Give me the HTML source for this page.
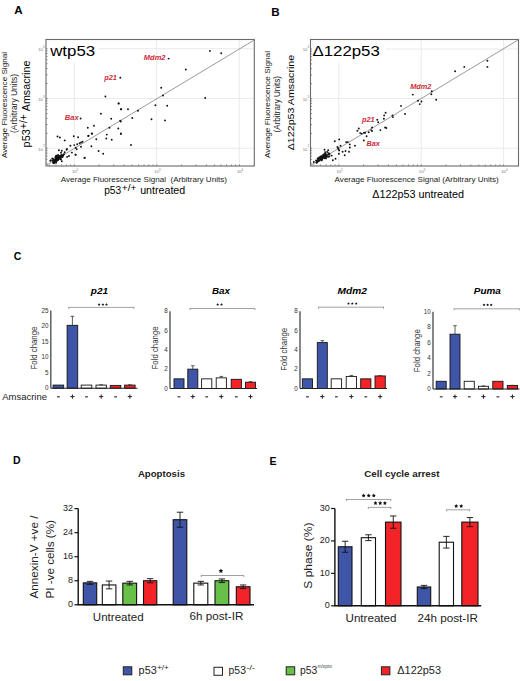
<!DOCTYPE html>
<html><head><meta charset="utf-8"><style>
html,body{margin:0;padding:0;background:#fff;}
svg{display:block;font-family:"Liberation Sans", sans-serif;}
</style></head><body>
<svg width="520" height="681" viewBox="0 0 520 681">
<rect width="520" height="681" fill="#fff"/>
<line x1="74.30" y1="39.50" x2="74.30" y2="166.00" stroke="#e8e8e8" stroke-width="0.9" />
<line x1="156.70" y1="39.50" x2="156.70" y2="166.00" stroke="#e8e8e8" stroke-width="0.9" />
<line x1="239.30" y1="39.50" x2="239.30" y2="166.00" stroke="#e8e8e8" stroke-width="0.9" />
<line x1="46.00" y1="48.70" x2="254.30" y2="48.70" stroke="#e8e8e8" stroke-width="0.9" />
<line x1="46.00" y1="98.50" x2="254.30" y2="98.50" stroke="#e8e8e8" stroke-width="0.9" />
<line x1="46.00" y1="148.30" x2="254.30" y2="148.30" stroke="#e8e8e8" stroke-width="0.9" />
<rect x="46.50" y="40.00" width="52.50" height="22.50" fill="#fff" stroke="none" stroke-width="1"/>
<line x1="49.47" y1="166.00" x2="49.47" y2="164.40" stroke="#666" stroke-width="0.7" />
<line x1="46.00" y1="163.29" x2="47.60" y2="163.29" stroke="#666" stroke-width="0.7" />
<line x1="56.00" y1="166.00" x2="56.00" y2="164.40" stroke="#666" stroke-width="0.7" />
<line x1="46.00" y1="159.35" x2="47.60" y2="159.35" stroke="#666" stroke-width="0.7" />
<line x1="61.52" y1="166.00" x2="61.52" y2="164.40" stroke="#666" stroke-width="0.7" />
<line x1="46.00" y1="156.01" x2="47.60" y2="156.01" stroke="#666" stroke-width="0.7" />
<line x1="66.30" y1="166.00" x2="66.30" y2="164.40" stroke="#666" stroke-width="0.7" />
<line x1="46.00" y1="153.13" x2="47.60" y2="153.13" stroke="#666" stroke-width="0.7" />
<line x1="70.53" y1="166.00" x2="70.53" y2="164.40" stroke="#666" stroke-width="0.7" />
<line x1="46.00" y1="150.58" x2="47.60" y2="150.58" stroke="#666" stroke-width="0.7" />
<line x1="74.30" y1="166.00" x2="74.30" y2="164.40" stroke="#666" stroke-width="0.7" />
<line x1="46.00" y1="148.30" x2="47.60" y2="148.30" stroke="#666" stroke-width="0.7" />
<line x1="99.13" y1="166.00" x2="99.13" y2="164.40" stroke="#666" stroke-width="0.7" />
<line x1="46.00" y1="133.31" x2="47.60" y2="133.31" stroke="#666" stroke-width="0.7" />
<line x1="113.66" y1="166.00" x2="113.66" y2="164.40" stroke="#666" stroke-width="0.7" />
<line x1="46.00" y1="124.54" x2="47.60" y2="124.54" stroke="#666" stroke-width="0.7" />
<line x1="123.97" y1="166.00" x2="123.97" y2="164.40" stroke="#666" stroke-width="0.7" />
<line x1="46.00" y1="118.32" x2="47.60" y2="118.32" stroke="#666" stroke-width="0.7" />
<line x1="131.97" y1="166.00" x2="131.97" y2="164.40" stroke="#666" stroke-width="0.7" />
<line x1="46.00" y1="113.49" x2="47.60" y2="113.49" stroke="#666" stroke-width="0.7" />
<line x1="138.50" y1="166.00" x2="138.50" y2="164.40" stroke="#666" stroke-width="0.7" />
<line x1="46.00" y1="109.55" x2="47.60" y2="109.55" stroke="#666" stroke-width="0.7" />
<line x1="144.02" y1="166.00" x2="144.02" y2="164.40" stroke="#666" stroke-width="0.7" />
<line x1="46.00" y1="106.21" x2="47.60" y2="106.21" stroke="#666" stroke-width="0.7" />
<line x1="148.80" y1="166.00" x2="148.80" y2="164.40" stroke="#666" stroke-width="0.7" />
<line x1="46.00" y1="103.33" x2="47.60" y2="103.33" stroke="#666" stroke-width="0.7" />
<line x1="153.03" y1="166.00" x2="153.03" y2="164.40" stroke="#666" stroke-width="0.7" />
<line x1="46.00" y1="100.78" x2="47.60" y2="100.78" stroke="#666" stroke-width="0.7" />
<line x1="156.80" y1="166.00" x2="156.80" y2="164.40" stroke="#666" stroke-width="0.7" />
<line x1="46.00" y1="98.50" x2="47.60" y2="98.50" stroke="#666" stroke-width="0.7" />
<line x1="181.63" y1="166.00" x2="181.63" y2="164.40" stroke="#666" stroke-width="0.7" />
<line x1="46.00" y1="83.51" x2="47.60" y2="83.51" stroke="#666" stroke-width="0.7" />
<line x1="196.16" y1="166.00" x2="196.16" y2="164.40" stroke="#666" stroke-width="0.7" />
<line x1="46.00" y1="74.74" x2="47.60" y2="74.74" stroke="#666" stroke-width="0.7" />
<line x1="206.47" y1="166.00" x2="206.47" y2="164.40" stroke="#666" stroke-width="0.7" />
<line x1="46.00" y1="68.52" x2="47.60" y2="68.52" stroke="#666" stroke-width="0.7" />
<line x1="214.47" y1="166.00" x2="214.47" y2="164.40" stroke="#666" stroke-width="0.7" />
<line x1="46.00" y1="63.69" x2="47.60" y2="63.69" stroke="#666" stroke-width="0.7" />
<line x1="221.00" y1="166.00" x2="221.00" y2="164.40" stroke="#666" stroke-width="0.7" />
<line x1="46.00" y1="59.75" x2="47.60" y2="59.75" stroke="#666" stroke-width="0.7" />
<line x1="226.52" y1="166.00" x2="226.52" y2="164.40" stroke="#666" stroke-width="0.7" />
<line x1="46.00" y1="56.41" x2="47.60" y2="56.41" stroke="#666" stroke-width="0.7" />
<line x1="231.30" y1="166.00" x2="231.30" y2="164.40" stroke="#666" stroke-width="0.7" />
<line x1="46.00" y1="53.53" x2="47.60" y2="53.53" stroke="#666" stroke-width="0.7" />
<line x1="235.53" y1="166.00" x2="235.53" y2="164.40" stroke="#666" stroke-width="0.7" />
<line x1="46.00" y1="50.98" x2="47.60" y2="50.98" stroke="#666" stroke-width="0.7" />
<line x1="239.30" y1="166.00" x2="239.30" y2="164.40" stroke="#666" stroke-width="0.7" />
<line x1="46.00" y1="48.70" x2="47.60" y2="48.70" stroke="#666" stroke-width="0.7" />
<rect x="46" y="39.5" width="208.30" height="126.50" fill="none" stroke="#6a6a6a" stroke-width="1.1"/>
<line x1="46.00" y1="165.40" x2="254.30" y2="40.00" stroke="#808080" stroke-width="0.8" />
<circle cx="80.6" cy="118.5" r="0.95" fill="#111"/>
<circle cx="100.9" cy="113.8" r="0.95" fill="#111"/>
<circle cx="118.6" cy="103.4" r="0.95" fill="#111"/>
<circle cx="120.9" cy="109.2" r="0.95" fill="#111"/>
<circle cx="111.2" cy="118.8" r="0.95" fill="#111"/>
<circle cx="120.2" cy="120.8" r="0.95" fill="#111"/>
<circle cx="94.0" cy="125.8" r="0.95" fill="#111"/>
<circle cx="87.8" cy="127.7" r="0.95" fill="#111"/>
<circle cx="109.4" cy="127.7" r="0.95" fill="#111"/>
<circle cx="118.3" cy="128.5" r="0.95" fill="#111"/>
<circle cx="120.9" cy="133.5" r="0.95" fill="#111"/>
<circle cx="91.7" cy="133.5" r="0.95" fill="#111"/>
<circle cx="88.6" cy="135.8" r="0.95" fill="#111"/>
<circle cx="106.8" cy="134.6" r="0.95" fill="#111"/>
<circle cx="106.3" cy="138.5" r="0.95" fill="#111"/>
<circle cx="111.7" cy="139.7" r="0.95" fill="#111"/>
<circle cx="96.3" cy="139.2" r="0.95" fill="#111"/>
<circle cx="57.5" cy="136.5" r="0.95" fill="#111"/>
<circle cx="59.9" cy="137.5" r="0.95" fill="#111"/>
<circle cx="64.7" cy="140.4" r="0.95" fill="#111"/>
<circle cx="73.8" cy="136.3" r="0.95" fill="#111"/>
<circle cx="78.1" cy="137.2" r="0.95" fill="#111"/>
<circle cx="88.2" cy="136.0" r="0.95" fill="#111"/>
<circle cx="92.1" cy="133.8" r="0.95" fill="#111"/>
<circle cx="70.4" cy="145.7" r="0.95" fill="#111"/>
<circle cx="74.3" cy="145.1" r="0.95" fill="#111"/>
<circle cx="77.2" cy="144.2" r="0.95" fill="#111"/>
<circle cx="79.6" cy="143.3" r="0.95" fill="#111"/>
<circle cx="81.0" cy="142.5" r="0.95" fill="#111"/>
<circle cx="82.5" cy="141.8" r="0.95" fill="#111"/>
<circle cx="75.7" cy="147.8" r="0.95" fill="#111"/>
<circle cx="76.7" cy="149.2" r="0.95" fill="#111"/>
<circle cx="81.0" cy="146.8" r="0.95" fill="#111"/>
<circle cx="91.4" cy="146.2" r="0.95" fill="#111"/>
<circle cx="66.6" cy="149.7" r="0.95" fill="#111"/>
<circle cx="58.9" cy="150.2" r="0.95" fill="#111"/>
<circle cx="61.8" cy="150.7" r="0.95" fill="#111"/>
<circle cx="71.9" cy="152.6" r="0.95" fill="#111"/>
<circle cx="75.7" cy="154.8" r="0.95" fill="#111"/>
<circle cx="69.0" cy="156.0" r="0.95" fill="#111"/>
<circle cx="67.1" cy="156.9" r="0.95" fill="#111"/>
<circle cx="84.4" cy="157.9" r="0.95" fill="#111"/>
<circle cx="98.6" cy="151.0" r="0.95" fill="#111"/>
<circle cx="103.2" cy="153.8" r="0.95" fill="#111"/>
<circle cx="84.8" cy="157.7" r="0.95" fill="#111"/>
<circle cx="75.5" cy="154.6" r="0.95" fill="#111"/>
<circle cx="67.0" cy="149.0" r="0.95" fill="#111"/>
<circle cx="50.3" cy="160.8" r="0.95" fill="#111"/>
<circle cx="56.0" cy="162.7" r="0.95" fill="#111"/>
<circle cx="61.8" cy="161.3" r="0.95" fill="#111"/>
<circle cx="168.6" cy="58.6" r="0.95" fill="#111"/>
<circle cx="185.8" cy="69.5" r="0.95" fill="#111"/>
<circle cx="161.2" cy="87.8" r="0.95" fill="#111"/>
<circle cx="163.0" cy="95.5" r="0.95" fill="#111"/>
<circle cx="120.3" cy="77.8" r="0.95" fill="#111"/>
<circle cx="105.4" cy="96.5" r="0.95" fill="#111"/>
<circle cx="118.7" cy="103.5" r="0.95" fill="#111"/>
<circle cx="209.9" cy="50.9" r="0.95" fill="#111"/>
<circle cx="221.2" cy="53.2" r="0.95" fill="#111"/>
<circle cx="205.2" cy="98.0" r="0.95" fill="#111"/>
<circle cx="121.2" cy="109.3" r="0.95" fill="#111"/>
<circle cx="128.0" cy="109.3" r="0.95" fill="#111"/>
<circle cx="138.0" cy="110.7" r="0.95" fill="#111"/>
<circle cx="132.3" cy="118.0" r="0.95" fill="#111"/>
<circle cx="120.8" cy="121.5" r="0.95" fill="#111"/>
<circle cx="120.8" cy="133.9" r="0.95" fill="#111"/>
<circle cx="131.0" cy="145.0" r="0.95" fill="#111"/>
<circle cx="155.4" cy="105.3" r="0.95" fill="#111"/>
<circle cx="167.2" cy="105.8" r="0.95" fill="#111"/>
<circle cx="151.5" cy="119.2" r="0.95" fill="#111"/>
<circle cx="165.0" cy="120.4" r="0.95" fill="#111"/>
<circle cx="53.8" cy="159.5" r="0.95" fill="#111"/>
<circle cx="58.5" cy="157.2" r="0.95" fill="#111"/>
<circle cx="53.2" cy="160.4" r="0.95" fill="#111"/>
<circle cx="56.4" cy="159.8" r="0.95" fill="#111"/>
<circle cx="59.4" cy="156.3" r="0.95" fill="#111"/>
<circle cx="52.3" cy="158.4" r="0.95" fill="#111"/>
<circle cx="57.9" cy="156.1" r="0.95" fill="#111"/>
<circle cx="53.3" cy="159.2" r="0.95" fill="#111"/>
<circle cx="58.2" cy="159.9" r="0.95" fill="#111"/>
<circle cx="56.9" cy="155.7" r="0.95" fill="#111"/>
<circle cx="61.1" cy="156.2" r="0.95" fill="#111"/>
<circle cx="58.0" cy="157.3" r="0.95" fill="#111"/>
<circle cx="62.3" cy="156.2" r="0.95" fill="#111"/>
<circle cx="56.1" cy="159.6" r="0.95" fill="#111"/>
<circle cx="58.6" cy="158.8" r="0.95" fill="#111"/>
<circle cx="55.5" cy="160.3" r="0.95" fill="#111"/>
<circle cx="60.3" cy="156.5" r="0.95" fill="#111"/>
<circle cx="64.7" cy="152.3" r="0.95" fill="#111"/>
<circle cx="60.9" cy="159.3" r="0.95" fill="#111"/>
<circle cx="64.0" cy="154.3" r="0.95" fill="#111"/>
<circle cx="60.6" cy="159.2" r="0.95" fill="#111"/>
<circle cx="58.4" cy="158.1" r="0.95" fill="#111"/>
<circle cx="62.0" cy="155.9" r="0.95" fill="#111"/>
<circle cx="60.3" cy="156.7" r="0.95" fill="#111"/>
<circle cx="55.9" cy="156.8" r="0.95" fill="#111"/>
<circle cx="52.7" cy="160.8" r="0.95" fill="#111"/>
<circle cx="58.7" cy="159.1" r="0.95" fill="#111"/>
<circle cx="58.1" cy="155.0" r="0.95" fill="#111"/>
<circle cx="57.3" cy="160.2" r="0.95" fill="#111"/>
<circle cx="53.3" cy="162.4" r="0.95" fill="#111"/>
<circle cx="59.1" cy="157.8" r="0.95" fill="#111"/>
<circle cx="60.3" cy="158.9" r="0.95" fill="#111"/>
<circle cx="60.9" cy="156.7" r="0.95" fill="#111"/>
<circle cx="56.9" cy="156.6" r="0.95" fill="#111"/>
<circle cx="56.1" cy="155.7" r="0.95" fill="#111"/>
<circle cx="55.9" cy="159.0" r="0.95" fill="#111"/>
<circle cx="53.9" cy="163.2" r="0.95" fill="#111"/>
<circle cx="57.8" cy="158.0" r="0.95" fill="#111"/>
<circle cx="56.6" cy="158.6" r="0.95" fill="#111"/>
<circle cx="58.7" cy="157.1" r="0.95" fill="#111"/>
<circle cx="57.2" cy="157.8" r="0.95" fill="#111"/>
<circle cx="55.6" cy="157.0" r="0.95" fill="#111"/>
<circle cx="54.5" cy="161.9" r="0.95" fill="#111"/>
<circle cx="62.6" cy="156.7" r="0.95" fill="#111"/>
<circle cx="58.2" cy="158.7" r="0.95" fill="#111"/>
<circle cx="54.6" cy="160.6" r="0.95" fill="#111"/>
<circle cx="54.1" cy="161.0" r="0.95" fill="#111"/>
<circle cx="50.9" cy="160.2" r="0.95" fill="#111"/>
<circle cx="56.2" cy="161.7" r="0.95" fill="#111"/>
<circle cx="55.5" cy="161.1" r="0.95" fill="#111"/>
<circle cx="60.7" cy="157.6" r="0.95" fill="#111"/>
<circle cx="56.7" cy="158.0" r="0.95" fill="#111"/>
<circle cx="62.1" cy="156.9" r="0.95" fill="#111"/>
<circle cx="60.4" cy="156.3" r="0.95" fill="#111"/>
<circle cx="56.0" cy="161.0" r="0.95" fill="#111"/>
<circle cx="55.4" cy="157.8" r="0.95" fill="#111"/>
<circle cx="54.0" cy="162.5" r="0.95" fill="#111"/>
<circle cx="59.7" cy="156.1" r="0.95" fill="#111"/>
<circle cx="53.3" cy="162.7" r="0.95" fill="#111"/>
<circle cx="54.6" cy="160.7" r="0.95" fill="#111"/>
<circle cx="54.4" cy="160.2" r="0.95" fill="#111"/>
<circle cx="57.3" cy="160.4" r="0.95" fill="#111"/>
<circle cx="63.1" cy="155.6" r="0.95" fill="#111"/>
<circle cx="63.3" cy="154.9" r="0.95" fill="#111"/>
<circle cx="61.3" cy="155.0" r="0.95" fill="#111"/>
<circle cx="57.7" cy="159.2" r="0.95" fill="#111"/>
<circle cx="56.5" cy="160.6" r="0.95" fill="#111"/>
<circle cx="55.7" cy="159.1" r="0.95" fill="#111"/>
<circle cx="61.0" cy="152.8" r="0.95" fill="#111"/>
<circle cx="63.3" cy="154.6" r="0.95" fill="#111"/>
<text x="50.20" y="55.90" font-size="14.2" fill="#000" textLength="45.00" lengthAdjust="spacingAndGlyphs" >wtp53</text>
<text x="143.80" y="59.50" font-size="7.4" fill="#cc2c38" font-weight="bold" font-style="italic" textLength="21.70" lengthAdjust="spacingAndGlyphs" >Mdm2</text>
<text x="104.20" y="79.70" font-size="7.4" fill="#cc2c38" font-weight="bold" font-style="italic" textLength="12.70" lengthAdjust="spacingAndGlyphs" >p21</text>
<text x="64.80" y="119.50" font-size="7.4" fill="#cc2c38" font-weight="bold" font-style="italic" textLength="13.80" lengthAdjust="spacingAndGlyphs" >Bax</text>
<text x="74.30" y="172.60" font-size="4.2" fill="#777" text-anchor="middle" >10</text>
<text x="76.60" y="170.60" font-size="2.8" fill="#777" >2</text>
<text x="156.70" y="172.60" font-size="4.2" fill="#777" text-anchor="middle" >10</text>
<text x="159.00" y="170.60" font-size="2.8" fill="#777" >3</text>
<text x="239.30" y="172.60" font-size="4.2" fill="#777" text-anchor="middle" >10</text>
<text x="241.60" y="170.60" font-size="2.8" fill="#777" >4</text>
<text x="42.90" y="50.90" font-size="4.2" fill="#777" text-anchor="end" >10</text>
<text x="42.90" y="47.80" font-size="2.8" fill="#777" >4</text>
<text x="42.90" y="100.70" font-size="4.2" fill="#777" text-anchor="end" >10</text>
<text x="42.90" y="97.60" font-size="2.8" fill="#777" >3</text>
<text x="42.90" y="150.50" font-size="4.2" fill="#777" text-anchor="end" >10</text>
<text x="42.90" y="147.40" font-size="2.8" fill="#777" >2</text>
<line x1="338.80" y1="39.50" x2="338.80" y2="166.00" stroke="#e8e8e8" stroke-width="0.9" />
<line x1="421.20" y1="39.50" x2="421.20" y2="166.00" stroke="#e8e8e8" stroke-width="0.9" />
<line x1="503.60" y1="39.50" x2="503.60" y2="166.00" stroke="#e8e8e8" stroke-width="0.9" />
<line x1="310.50" y1="49.00" x2="518.50" y2="49.00" stroke="#e8e8e8" stroke-width="0.9" />
<line x1="310.50" y1="98.50" x2="518.50" y2="98.50" stroke="#e8e8e8" stroke-width="0.9" />
<line x1="310.50" y1="148.30" x2="518.50" y2="148.30" stroke="#e8e8e8" stroke-width="0.9" />
<rect x="311.00" y="40.00" width="74.80" height="22.50" fill="#fff" stroke="none" stroke-width="1"/>
<line x1="314.00" y1="166.00" x2="314.00" y2="164.40" stroke="#666" stroke-width="0.7" />
<line x1="310.50" y1="163.25" x2="312.10" y2="163.25" stroke="#666" stroke-width="0.7" />
<line x1="320.52" y1="166.00" x2="320.52" y2="164.40" stroke="#666" stroke-width="0.7" />
<line x1="310.50" y1="159.31" x2="312.10" y2="159.31" stroke="#666" stroke-width="0.7" />
<line x1="326.04" y1="166.00" x2="326.04" y2="164.40" stroke="#666" stroke-width="0.7" />
<line x1="310.50" y1="155.99" x2="312.10" y2="155.99" stroke="#666" stroke-width="0.7" />
<line x1="330.81" y1="166.00" x2="330.81" y2="164.40" stroke="#666" stroke-width="0.7" />
<line x1="310.50" y1="153.11" x2="312.10" y2="153.11" stroke="#666" stroke-width="0.7" />
<line x1="335.03" y1="166.00" x2="335.03" y2="164.40" stroke="#666" stroke-width="0.7" />
<line x1="310.50" y1="150.57" x2="312.10" y2="150.57" stroke="#666" stroke-width="0.7" />
<line x1="338.80" y1="166.00" x2="338.80" y2="164.40" stroke="#666" stroke-width="0.7" />
<line x1="310.50" y1="148.30" x2="312.10" y2="148.30" stroke="#666" stroke-width="0.7" />
<line x1="363.60" y1="166.00" x2="363.60" y2="164.40" stroke="#666" stroke-width="0.7" />
<line x1="310.50" y1="133.35" x2="312.10" y2="133.35" stroke="#666" stroke-width="0.7" />
<line x1="378.11" y1="166.00" x2="378.11" y2="164.40" stroke="#666" stroke-width="0.7" />
<line x1="310.50" y1="124.61" x2="312.10" y2="124.61" stroke="#666" stroke-width="0.7" />
<line x1="388.41" y1="166.00" x2="388.41" y2="164.40" stroke="#666" stroke-width="0.7" />
<line x1="310.50" y1="118.41" x2="312.10" y2="118.41" stroke="#666" stroke-width="0.7" />
<line x1="396.40" y1="166.00" x2="396.40" y2="164.40" stroke="#666" stroke-width="0.7" />
<line x1="310.50" y1="113.60" x2="312.10" y2="113.60" stroke="#666" stroke-width="0.7" />
<line x1="402.92" y1="166.00" x2="402.92" y2="164.40" stroke="#666" stroke-width="0.7" />
<line x1="310.50" y1="109.66" x2="312.10" y2="109.66" stroke="#666" stroke-width="0.7" />
<line x1="408.44" y1="166.00" x2="408.44" y2="164.40" stroke="#666" stroke-width="0.7" />
<line x1="310.50" y1="106.34" x2="312.10" y2="106.34" stroke="#666" stroke-width="0.7" />
<line x1="413.21" y1="166.00" x2="413.21" y2="164.40" stroke="#666" stroke-width="0.7" />
<line x1="310.50" y1="103.46" x2="312.10" y2="103.46" stroke="#666" stroke-width="0.7" />
<line x1="417.43" y1="166.00" x2="417.43" y2="164.40" stroke="#666" stroke-width="0.7" />
<line x1="310.50" y1="100.92" x2="312.10" y2="100.92" stroke="#666" stroke-width="0.7" />
<line x1="421.20" y1="166.00" x2="421.20" y2="164.40" stroke="#666" stroke-width="0.7" />
<line x1="310.50" y1="98.65" x2="312.10" y2="98.65" stroke="#666" stroke-width="0.7" />
<line x1="446.00" y1="166.00" x2="446.00" y2="164.40" stroke="#666" stroke-width="0.7" />
<line x1="310.50" y1="83.70" x2="312.10" y2="83.70" stroke="#666" stroke-width="0.7" />
<line x1="460.51" y1="166.00" x2="460.51" y2="164.40" stroke="#666" stroke-width="0.7" />
<line x1="310.50" y1="74.96" x2="312.10" y2="74.96" stroke="#666" stroke-width="0.7" />
<line x1="470.81" y1="166.00" x2="470.81" y2="164.40" stroke="#666" stroke-width="0.7" />
<line x1="310.50" y1="68.76" x2="312.10" y2="68.76" stroke="#666" stroke-width="0.7" />
<line x1="478.80" y1="166.00" x2="478.80" y2="164.40" stroke="#666" stroke-width="0.7" />
<line x1="310.50" y1="63.95" x2="312.10" y2="63.95" stroke="#666" stroke-width="0.7" />
<line x1="485.32" y1="166.00" x2="485.32" y2="164.40" stroke="#666" stroke-width="0.7" />
<line x1="310.50" y1="60.01" x2="312.10" y2="60.01" stroke="#666" stroke-width="0.7" />
<line x1="490.84" y1="166.00" x2="490.84" y2="164.40" stroke="#666" stroke-width="0.7" />
<line x1="310.50" y1="56.69" x2="312.10" y2="56.69" stroke="#666" stroke-width="0.7" />
<line x1="495.61" y1="166.00" x2="495.61" y2="164.40" stroke="#666" stroke-width="0.7" />
<line x1="310.50" y1="53.81" x2="312.10" y2="53.81" stroke="#666" stroke-width="0.7" />
<line x1="499.83" y1="166.00" x2="499.83" y2="164.40" stroke="#666" stroke-width="0.7" />
<line x1="310.50" y1="51.27" x2="312.10" y2="51.27" stroke="#666" stroke-width="0.7" />
<line x1="503.60" y1="166.00" x2="503.60" y2="164.40" stroke="#666" stroke-width="0.7" />
<line x1="310.50" y1="49.00" x2="312.10" y2="49.00" stroke="#666" stroke-width="0.7" />
<rect x="310.5" y="39.5" width="208.00" height="126.50" fill="none" stroke="#6a6a6a" stroke-width="1.1"/>
<line x1="310.50" y1="165.40" x2="518.50" y2="39.70" stroke="#808080" stroke-width="0.8" />
<circle cx="455.1" cy="71.2" r="0.95" fill="#111"/>
<circle cx="464.3" cy="66.9" r="0.95" fill="#111"/>
<circle cx="487.4" cy="60.8" r="0.95" fill="#111"/>
<circle cx="487.4" cy="66.9" r="0.95" fill="#111"/>
<circle cx="412.8" cy="94.6" r="0.95" fill="#111"/>
<circle cx="431.8" cy="91.2" r="0.95" fill="#111"/>
<circle cx="431.3" cy="94.3" r="0.95" fill="#111"/>
<circle cx="418.0" cy="100.7" r="0.95" fill="#111"/>
<circle cx="421.4" cy="101.5" r="0.95" fill="#111"/>
<circle cx="419.7" cy="104.1" r="0.95" fill="#111"/>
<circle cx="436.2" cy="99.8" r="0.95" fill="#111"/>
<circle cx="401.0" cy="105.9" r="0.95" fill="#111"/>
<circle cx="405.0" cy="114.0" r="0.95" fill="#111"/>
<circle cx="392.5" cy="115.4" r="0.95" fill="#111"/>
<circle cx="392.9" cy="117.1" r="0.95" fill="#111"/>
<circle cx="385.6" cy="112.8" r="0.95" fill="#111"/>
<circle cx="384.2" cy="115.4" r="0.95" fill="#111"/>
<circle cx="383.9" cy="118.8" r="0.95" fill="#111"/>
<circle cx="377.3" cy="119.7" r="0.95" fill="#111"/>
<circle cx="378.2" cy="122.3" r="0.95" fill="#111"/>
<circle cx="385.1" cy="127.5" r="0.95" fill="#111"/>
<circle cx="386.3" cy="128.0" r="0.95" fill="#111"/>
<circle cx="380.4" cy="130.1" r="0.95" fill="#111"/>
<circle cx="372.1" cy="127.5" r="0.95" fill="#111"/>
<circle cx="371.2" cy="130.1" r="0.95" fill="#111"/>
<circle cx="372.0" cy="131.0" r="0.95" fill="#111"/>
<circle cx="368.7" cy="132.3" r="0.95" fill="#111"/>
<circle cx="365.2" cy="132.7" r="0.95" fill="#111"/>
<circle cx="361.7" cy="133.6" r="0.95" fill="#111"/>
<circle cx="366.6" cy="136.2" r="0.95" fill="#111"/>
<circle cx="363.8" cy="140.5" r="0.95" fill="#111"/>
<circle cx="358.8" cy="128.5" r="0.95" fill="#111"/>
<circle cx="357.4" cy="130.8" r="0.95" fill="#111"/>
<circle cx="360.2" cy="133.1" r="0.95" fill="#111"/>
<circle cx="364.0" cy="132.8" r="0.95" fill="#111"/>
<circle cx="334.8" cy="141.2" r="0.95" fill="#111"/>
<circle cx="339.2" cy="139.4" r="0.95" fill="#111"/>
<circle cx="346.1" cy="142.1" r="0.95" fill="#111"/>
<circle cx="347.8" cy="142.1" r="0.95" fill="#111"/>
<circle cx="349.8" cy="144.4" r="0.95" fill="#111"/>
<circle cx="349.8" cy="147.5" r="0.95" fill="#111"/>
<circle cx="355.0" cy="145.8" r="0.95" fill="#111"/>
<circle cx="340.5" cy="145.8" r="0.95" fill="#111"/>
<circle cx="337.4" cy="146.9" r="0.95" fill="#111"/>
<circle cx="338.0" cy="148.0" r="0.95" fill="#111"/>
<circle cx="338.6" cy="149.2" r="0.95" fill="#111"/>
<circle cx="339.2" cy="150.4" r="0.95" fill="#111"/>
<circle cx="342.6" cy="151.8" r="0.95" fill="#111"/>
<circle cx="345.5" cy="151.0" r="0.95" fill="#111"/>
<circle cx="349.0" cy="151.8" r="0.95" fill="#111"/>
<circle cx="344.7" cy="155.2" r="0.95" fill="#111"/>
<circle cx="338.9" cy="153.8" r="0.95" fill="#111"/>
<circle cx="324.5" cy="149.8" r="0.95" fill="#111"/>
<circle cx="328.2" cy="150.2" r="0.95" fill="#111"/>
<circle cx="328.8" cy="153.3" r="0.95" fill="#111"/>
<circle cx="331.7" cy="155.6" r="0.95" fill="#111"/>
<circle cx="335.5" cy="158.7" r="0.95" fill="#111"/>
<circle cx="332.8" cy="160.2" r="0.95" fill="#111"/>
<circle cx="325.3" cy="153.3" r="0.95" fill="#111"/>
<circle cx="326.5" cy="156.2" r="0.95" fill="#111"/>
<circle cx="323.5" cy="154.8" r="0.95" fill="#111"/>
<circle cx="327.2" cy="152.0" r="0.95" fill="#111"/>
<circle cx="313.8" cy="162.0" r="0.95" fill="#111"/>
<circle cx="324.5" cy="156.6" r="0.95" fill="#111"/>
<circle cx="321.9" cy="159.8" r="0.95" fill="#111"/>
<circle cx="324.0" cy="157.6" r="0.95" fill="#111"/>
<circle cx="321.6" cy="158.4" r="0.95" fill="#111"/>
<circle cx="318.5" cy="159.7" r="0.95" fill="#111"/>
<circle cx="323.7" cy="157.2" r="0.95" fill="#111"/>
<circle cx="326.7" cy="156.3" r="0.95" fill="#111"/>
<circle cx="328.5" cy="153.9" r="0.95" fill="#111"/>
<circle cx="325.7" cy="154.3" r="0.95" fill="#111"/>
<circle cx="320.7" cy="159.3" r="0.95" fill="#111"/>
<circle cx="328.5" cy="154.1" r="0.95" fill="#111"/>
<circle cx="321.0" cy="159.6" r="0.95" fill="#111"/>
<circle cx="316.7" cy="162.7" r="0.95" fill="#111"/>
<circle cx="316.0" cy="160.4" r="0.95" fill="#111"/>
<circle cx="320.7" cy="158.0" r="0.95" fill="#111"/>
<circle cx="318.1" cy="159.5" r="0.95" fill="#111"/>
<circle cx="317.4" cy="161.1" r="0.95" fill="#111"/>
<circle cx="325.3" cy="156.0" r="0.95" fill="#111"/>
<circle cx="324.4" cy="157.3" r="0.95" fill="#111"/>
<circle cx="317.4" cy="161.7" r="0.95" fill="#111"/>
<circle cx="328.2" cy="156.9" r="0.95" fill="#111"/>
<circle cx="328.3" cy="154.6" r="0.95" fill="#111"/>
<circle cx="318.4" cy="158.7" r="0.95" fill="#111"/>
<circle cx="317.7" cy="158.4" r="0.95" fill="#111"/>
<circle cx="329.4" cy="156.2" r="0.95" fill="#111"/>
<circle cx="316.6" cy="162.4" r="0.95" fill="#111"/>
<circle cx="325.5" cy="157.6" r="0.95" fill="#111"/>
<circle cx="322.3" cy="158.7" r="0.95" fill="#111"/>
<circle cx="319.2" cy="160.6" r="0.95" fill="#111"/>
<circle cx="325.2" cy="156.7" r="0.95" fill="#111"/>
<circle cx="318.7" cy="161.0" r="0.95" fill="#111"/>
<circle cx="321.3" cy="160.4" r="0.95" fill="#111"/>
<circle cx="324.7" cy="156.1" r="0.95" fill="#111"/>
<circle cx="317.4" cy="160.9" r="0.95" fill="#111"/>
<circle cx="322.5" cy="157.5" r="0.95" fill="#111"/>
<circle cx="326.7" cy="155.8" r="0.95" fill="#111"/>
<circle cx="326.7" cy="156.8" r="0.95" fill="#111"/>
<circle cx="318.8" cy="159.6" r="0.95" fill="#111"/>
<circle cx="324.3" cy="158.3" r="0.95" fill="#111"/>
<circle cx="326.3" cy="155.1" r="0.95" fill="#111"/>
<circle cx="323.8" cy="156.5" r="0.95" fill="#111"/>
<circle cx="321.9" cy="159.7" r="0.95" fill="#111"/>
<circle cx="329.6" cy="154.1" r="0.95" fill="#111"/>
<circle cx="321.9" cy="158.5" r="0.95" fill="#111"/>
<circle cx="320.2" cy="157.0" r="0.95" fill="#111"/>
<circle cx="321.2" cy="156.8" r="0.95" fill="#111"/>
<circle cx="323.4" cy="154.8" r="0.95" fill="#111"/>
<circle cx="320.4" cy="157.9" r="0.95" fill="#111"/>
<circle cx="322.3" cy="156.1" r="0.95" fill="#111"/>
<circle cx="321.7" cy="158.8" r="0.95" fill="#111"/>
<circle cx="324.8" cy="157.6" r="0.95" fill="#111"/>
<circle cx="318.7" cy="158.5" r="0.95" fill="#111"/>
<circle cx="324.5" cy="153.9" r="0.95" fill="#111"/>
<circle cx="319.2" cy="157.4" r="0.95" fill="#111"/>
<circle cx="324.6" cy="157.7" r="0.95" fill="#111"/>
<circle cx="325.2" cy="152.1" r="0.95" fill="#111"/>
<circle cx="325.9" cy="154.6" r="0.95" fill="#111"/>
<circle cx="320.0" cy="157.7" r="0.95" fill="#111"/>
<circle cx="321.2" cy="156.2" r="0.95" fill="#111"/>
<circle cx="326.0" cy="158.4" r="0.95" fill="#111"/>
<circle cx="322.5" cy="156.3" r="0.95" fill="#111"/>
<circle cx="324.0" cy="155.3" r="0.95" fill="#111"/>
<circle cx="325.5" cy="156.6" r="0.95" fill="#111"/>
<circle cx="321.0" cy="157.7" r="0.95" fill="#111"/>
<circle cx="324.1" cy="156.4" r="0.95" fill="#111"/>
<circle cx="322.0" cy="158.6" r="0.95" fill="#111"/>
<circle cx="317.7" cy="161.3" r="0.95" fill="#111"/>
<text x="312.50" y="56.40" font-size="14.2" fill="#000" textLength="67.30" lengthAdjust="spacingAndGlyphs" >&#916;122p53</text>
<text x="410.20" y="88.60" font-size="7.4" fill="#cc2c38" font-weight="bold" font-style="italic" textLength="21.10" lengthAdjust="spacingAndGlyphs" >Mdm2</text>
<text x="362.00" y="122.00" font-size="7.4" fill="#cc2c38" font-weight="bold" font-style="italic" textLength="12.70" lengthAdjust="spacingAndGlyphs" >p21</text>
<text x="366.60" y="146.20" font-size="7.4" fill="#cc2c38" font-weight="bold" font-style="italic" textLength="13.30" lengthAdjust="spacingAndGlyphs" >Bax</text>
<text x="338.80" y="172.60" font-size="4.2" fill="#777" text-anchor="middle" >10</text>
<text x="341.10" y="170.60" font-size="2.8" fill="#777" >2</text>
<text x="421.20" y="172.60" font-size="4.2" fill="#777" text-anchor="middle" >10</text>
<text x="423.50" y="170.60" font-size="2.8" fill="#777" >3</text>
<text x="503.60" y="172.60" font-size="4.2" fill="#777" text-anchor="middle" >10</text>
<text x="505.90" y="170.60" font-size="2.8" fill="#777" >4</text>
<text x="307.40" y="51.20" font-size="4.2" fill="#777" text-anchor="end" >10</text>
<text x="307.40" y="48.10" font-size="2.8" fill="#777" >4</text>
<text x="307.40" y="100.70" font-size="4.2" fill="#777" text-anchor="end" >10</text>
<text x="307.40" y="97.60" font-size="2.8" fill="#777" >3</text>
<text x="307.40" y="150.50" font-size="4.2" fill="#777" text-anchor="end" >10</text>
<text x="307.40" y="147.40" font-size="2.8" fill="#777" >2</text>
<text x="14.20" y="13.80" font-size="11.6" fill="#000" font-weight="bold" >A</text>
<text x="271.20" y="15.80" font-size="11.6" fill="#000" font-weight="bold" >B</text>
<text x="7.10" y="105.00" font-size="7.9" fill="#222" text-anchor="middle" textLength="106.00" lengthAdjust="spacingAndGlyphs" transform="rotate(-90 7.10 105.00)" >Average Fluorescence Signal</text>
<text x="16.50" y="103.50" font-size="8.2" fill="#222" text-anchor="middle" textLength="59.00" lengthAdjust="spacingAndGlyphs" transform="rotate(-90 16.50 103.50)" >(Arbitrary Units)</text>
<text x="30.40" y="147.40" font-size="10.0" fill="#000" textLength="18.20" lengthAdjust="spacingAndGlyphs" transform="rotate(-90 30.40 147.40)" >p53</text>
<text x="26.70" y="129.00" font-size="10.0" fill="#000" textLength="14.60" lengthAdjust="spacingAndGlyphs" transform="rotate(-90 26.70 129.00)" >+/+</text>
<text x="29.90" y="111.20" font-size="10.5" fill="#000" textLength="50.60" lengthAdjust="spacingAndGlyphs" transform="rotate(-90 29.90 111.20)" >Amsacrine</text>
<text x="60.80" y="181.80" font-size="8.0" fill="#222" textLength="166.10" lengthAdjust="spacingAndGlyphs" >Average Fluorescence Signal&#160;&#160;(Arbitrary Units)</text>
<text x="104.20" y="194.40" font-size="10.0" fill="#000" textLength="17.00" lengthAdjust="spacingAndGlyphs" >p53</text>
<text x="121.80" y="191.00" font-size="9.4" fill="#000" textLength="14.60" lengthAdjust="spacingAndGlyphs" >+/+</text>
<text x="140.20" y="194.40" font-size="10.0" fill="#000" textLength="45.00" lengthAdjust="spacingAndGlyphs" >untreated</text>
<text x="270.40" y="104.50" font-size="7.9" fill="#222" text-anchor="middle" textLength="107.00" lengthAdjust="spacingAndGlyphs" transform="rotate(-90 270.40 104.50)" >Average Fluorescence Signal</text>
<text x="280.20" y="104.20" font-size="8.2" fill="#222" text-anchor="middle" textLength="56.30" lengthAdjust="spacingAndGlyphs" transform="rotate(-90 280.20 104.20)" >(Arbitrary Units)</text>
<text x="293.70" y="102.50" font-size="9.8" fill="#000" text-anchor="middle" textLength="95.50" lengthAdjust="spacingAndGlyphs" transform="rotate(-90 293.70 102.50)" >&#916;122p53 Amsacrine</text>
<text x="334.60" y="182.30" font-size="8.0" fill="#222" textLength="164.20" lengthAdjust="spacingAndGlyphs" >Average Fluorescence Signal (Arbitrary Units)</text>
<text x="372.20" y="197.60" font-size="10.0" fill="#000" textLength="91.90" lengthAdjust="spacingAndGlyphs" >&#916;122p53 untreated</text>
<text x="13.75" y="260.00" font-size="10.5" fill="#000" font-weight="bold" >C</text>
<rect x="53.10" y="385.09" width="10.60" height="3.11" fill="#3e55a8" stroke="#151515" stroke-width="0.9"/>
<rect x="67.10" y="325.34" width="10.60" height="62.86" fill="#3e55a8" stroke="#151515" stroke-width="0.9"/>
<line x1="72.40" y1="316.31" x2="72.40" y2="325.34" stroke="#333" stroke-width="0.8" />
<line x1="70.60" y1="316.31" x2="74.20" y2="316.31" stroke="#333" stroke-width="0.8" />
<rect x="81.20" y="385.09" width="10.60" height="3.11" fill="#ffffff" stroke="#151515" stroke-width="0.9"/>
<rect x="96.00" y="385.09" width="10.40" height="3.11" fill="#ffffff" stroke="#151515" stroke-width="0.9"/>
<line x1="101.20" y1="384.78" x2="101.20" y2="385.09" stroke="#333" stroke-width="0.8" />
<line x1="99.40" y1="384.78" x2="103.00" y2="384.78" stroke="#333" stroke-width="0.8" />
<rect x="110.30" y="385.40" width="10.50" height="2.80" fill="#f32428" stroke="#151515" stroke-width="0.9"/>
<rect x="124.60" y="385.09" width="10.50" height="3.11" fill="#f32428" stroke="#151515" stroke-width="0.9"/>
<line x1="129.85" y1="384.78" x2="129.85" y2="385.09" stroke="#333" stroke-width="0.8" />
<line x1="128.05" y1="384.78" x2="131.65" y2="384.78" stroke="#333" stroke-width="0.8" />
<line x1="50.80" y1="310.40" x2="50.80" y2="388.20" stroke="#555" stroke-width="1.4" />
<line x1="50.80" y1="388.20" x2="137.40" y2="388.20" stroke="#222" stroke-width="1.1" />
<text x="48.60" y="390.40" font-size="6.3" fill="#333" text-anchor="end" >0</text>
<text x="48.60" y="374.84" font-size="6.3" fill="#333" text-anchor="end" >5</text>
<text x="48.60" y="359.28" font-size="6.3" fill="#333" text-anchor="end" >10</text>
<text x="48.60" y="343.72" font-size="6.3" fill="#333" text-anchor="end" >15</text>
<text x="48.60" y="328.16" font-size="6.3" fill="#333" text-anchor="end" >20</text>
<text x="48.60" y="312.60" font-size="6.3" fill="#333" text-anchor="end" >25</text>
<text x="90.80" y="293.80" font-size="9.6" fill="#000" font-weight="bold" font-style="italic" textLength="17.30" lengthAdjust="spacingAndGlyphs" >p21</text>
<rect x="57.00" y="396.30" width="2.80" height="1.10" fill="#222" stroke="none" stroke-width="1"/>
<rect x="70.30" y="396.10" width="4.20" height="1.00" fill="#222" stroke="none" stroke-width="1"/>
<rect x="71.90" y="394.50" width="1.00" height="4.20" fill="#222" stroke="none" stroke-width="1"/>
<rect x="85.10" y="396.30" width="2.80" height="1.10" fill="#222" stroke="none" stroke-width="1"/>
<rect x="99.10" y="396.10" width="4.20" height="1.00" fill="#222" stroke="none" stroke-width="1"/>
<rect x="100.70" y="394.50" width="1.00" height="4.20" fill="#222" stroke="none" stroke-width="1"/>
<rect x="114.15" y="396.30" width="2.80" height="1.10" fill="#222" stroke="none" stroke-width="1"/>
<rect x="127.75" y="396.10" width="4.20" height="1.00" fill="#222" stroke="none" stroke-width="1"/>
<rect x="129.35" y="394.50" width="1.00" height="4.20" fill="#222" stroke="none" stroke-width="1"/>
<text x="36.70" y="348.10" font-size="8.3" fill="#333" text-anchor="middle" textLength="43.00" lengthAdjust="spacingAndGlyphs" transform="rotate(-90 36.70 348.10)" >Fold change</text>
<line x1="68.80" y1="307.40" x2="133.90" y2="307.40" stroke="#8a8a8a" stroke-width="0.8" />
<line x1="68.80" y1="306.80" x2="68.80" y2="309.00" stroke="#8a8a8a" stroke-width="0.8" />
<line x1="133.90" y1="306.80" x2="133.90" y2="309.00" stroke="#8a8a8a" stroke-width="0.8" />
<polygon points="99.10,303.05 99.54,303.89 100.48,304.05 99.82,304.73 99.95,305.67 99.10,305.25 98.25,305.67 98.38,304.73 97.72,304.05 98.66,303.89" fill="#111"/>
<polygon points="102.90,303.05 103.34,303.89 104.28,304.05 103.62,304.73 103.75,305.67 102.90,305.25 102.05,305.67 102.18,304.73 101.52,304.05 102.46,303.89" fill="#111"/>
<polygon points="106.50,303.05 106.94,303.89 107.88,304.05 107.22,304.73 107.35,305.67 106.50,305.25 105.65,305.67 105.78,304.73 105.12,304.05 106.06,303.89" fill="#111"/>
<rect x="174.00" y="378.84" width="10.00" height="9.66" fill="#3e55a8" stroke="#151515" stroke-width="0.9"/>
<rect x="187.80" y="369.18" width="10.00" height="19.32" fill="#3e55a8" stroke="#151515" stroke-width="0.9"/>
<line x1="192.80" y1="365.79" x2="192.80" y2="369.18" stroke="#333" stroke-width="0.8" />
<line x1="191.00" y1="365.79" x2="194.60" y2="365.79" stroke="#333" stroke-width="0.8" />
<rect x="201.60" y="378.84" width="10.20" height="9.66" fill="#ffffff" stroke="#151515" stroke-width="0.9"/>
<rect x="216.20" y="377.87" width="10.20" height="10.63" fill="#ffffff" stroke="#151515" stroke-width="0.9"/>
<line x1="221.30" y1="376.42" x2="221.30" y2="377.87" stroke="#333" stroke-width="0.8" />
<line x1="219.50" y1="376.42" x2="223.10" y2="376.42" stroke="#333" stroke-width="0.8" />
<rect x="231.20" y="379.32" width="10.20" height="9.18" fill="#f32428" stroke="#151515" stroke-width="0.9"/>
<rect x="245.50" y="382.22" width="10.00" height="6.28" fill="#f32428" stroke="#151515" stroke-width="0.9"/>
<line x1="250.50" y1="381.64" x2="250.50" y2="382.22" stroke="#333" stroke-width="0.8" />
<line x1="248.70" y1="381.64" x2="252.30" y2="381.64" stroke="#333" stroke-width="0.8" />
<line x1="170.00" y1="311.20" x2="170.00" y2="388.50" stroke="#555" stroke-width="1.4" />
<line x1="170.00" y1="388.50" x2="257.00" y2="388.50" stroke="#222" stroke-width="1.1" />
<text x="167.80" y="390.70" font-size="6.3" fill="#333" text-anchor="end" >0</text>
<text x="167.80" y="371.38" font-size="6.3" fill="#333" text-anchor="end" >2</text>
<text x="167.80" y="352.05" font-size="6.3" fill="#333" text-anchor="end" >4</text>
<text x="167.80" y="332.72" font-size="6.3" fill="#333" text-anchor="end" >6</text>
<text x="167.80" y="313.40" font-size="6.3" fill="#333" text-anchor="end" >8</text>
<text x="212.00" y="293.80" font-size="9.6" fill="#000" font-weight="bold" font-style="italic" textLength="18.00" lengthAdjust="spacingAndGlyphs" >Bax</text>
<rect x="177.60" y="396.30" width="2.80" height="1.10" fill="#222" stroke="none" stroke-width="1"/>
<rect x="190.70" y="396.10" width="4.20" height="1.00" fill="#222" stroke="none" stroke-width="1"/>
<rect x="192.30" y="394.50" width="1.00" height="4.20" fill="#222" stroke="none" stroke-width="1"/>
<rect x="205.30" y="396.30" width="2.80" height="1.10" fill="#222" stroke="none" stroke-width="1"/>
<rect x="219.20" y="396.10" width="4.20" height="1.00" fill="#222" stroke="none" stroke-width="1"/>
<rect x="220.80" y="394.50" width="1.00" height="4.20" fill="#222" stroke="none" stroke-width="1"/>
<rect x="234.90" y="396.30" width="2.80" height="1.10" fill="#222" stroke="none" stroke-width="1"/>
<rect x="248.40" y="396.10" width="4.20" height="1.00" fill="#222" stroke="none" stroke-width="1"/>
<rect x="250.00" y="394.50" width="1.00" height="4.20" fill="#222" stroke="none" stroke-width="1"/>
<text x="158.30" y="347.90" font-size="8.3" fill="#333" text-anchor="middle" textLength="43.00" lengthAdjust="spacingAndGlyphs" transform="rotate(-90 158.30 347.90)" >Fold change</text>
<line x1="190.00" y1="308.50" x2="254.90" y2="308.50" stroke="#8a8a8a" stroke-width="0.8" />
<line x1="190.00" y1="307.90" x2="190.00" y2="310.10" stroke="#8a8a8a" stroke-width="0.8" />
<line x1="254.90" y1="307.90" x2="254.90" y2="310.10" stroke="#8a8a8a" stroke-width="0.8" />
<polygon points="217.70,303.05 218.14,303.89 219.08,304.05 218.42,304.73 218.55,305.67 217.70,305.25 216.85,305.67 216.98,304.73 216.32,304.05 217.26,303.89" fill="#111"/>
<polygon points="221.50,303.05 221.94,303.89 222.88,304.05 222.22,304.73 222.35,305.67 221.50,305.25 220.65,305.67 220.78,304.73 220.12,304.05 221.06,303.89" fill="#111"/>
<rect x="302.30" y="378.84" width="10.20" height="9.66" fill="#3e55a8" stroke="#151515" stroke-width="0.9"/>
<rect x="317.30" y="342.60" width="10.00" height="45.90" fill="#3e55a8" stroke="#151515" stroke-width="0.9"/>
<line x1="322.30" y1="340.67" x2="322.30" y2="342.60" stroke="#333" stroke-width="0.8" />
<line x1="320.50" y1="340.67" x2="324.10" y2="340.67" stroke="#333" stroke-width="0.8" />
<rect x="331.20" y="378.84" width="10.40" height="9.66" fill="#ffffff" stroke="#151515" stroke-width="0.9"/>
<rect x="346.20" y="376.42" width="10.30" height="12.08" fill="#ffffff" stroke="#151515" stroke-width="0.9"/>
<line x1="351.35" y1="375.46" x2="351.35" y2="376.42" stroke="#333" stroke-width="0.8" />
<line x1="349.55" y1="375.46" x2="353.15" y2="375.46" stroke="#333" stroke-width="0.8" />
<rect x="360.70" y="378.84" width="10.20" height="9.66" fill="#f32428" stroke="#151515" stroke-width="0.9"/>
<rect x="375.00" y="375.94" width="10.30" height="12.56" fill="#f32428" stroke="#151515" stroke-width="0.9"/>
<line x1="380.15" y1="375.55" x2="380.15" y2="375.94" stroke="#333" stroke-width="0.8" />
<line x1="378.35" y1="375.55" x2="381.95" y2="375.55" stroke="#333" stroke-width="0.8" />
<line x1="300.00" y1="311.20" x2="300.00" y2="388.50" stroke="#555" stroke-width="1.4" />
<line x1="300.00" y1="388.50" x2="387.00" y2="388.50" stroke="#222" stroke-width="1.1" />
<text x="297.80" y="390.70" font-size="6.3" fill="#333" text-anchor="end" >0</text>
<text x="297.80" y="371.38" font-size="6.3" fill="#333" text-anchor="end" >2</text>
<text x="297.80" y="352.05" font-size="6.3" fill="#333" text-anchor="end" >4</text>
<text x="297.80" y="332.72" font-size="6.3" fill="#333" text-anchor="end" >6</text>
<text x="297.80" y="313.40" font-size="6.3" fill="#333" text-anchor="end" >8</text>
<text x="337.60" y="293.80" font-size="9.6" fill="#000" font-weight="bold" font-style="italic" textLength="29.30" lengthAdjust="spacingAndGlyphs" >Mdm2</text>
<rect x="306.00" y="396.30" width="2.80" height="1.10" fill="#222" stroke="none" stroke-width="1"/>
<rect x="320.20" y="396.10" width="4.20" height="1.00" fill="#222" stroke="none" stroke-width="1"/>
<rect x="321.80" y="394.50" width="1.00" height="4.20" fill="#222" stroke="none" stroke-width="1"/>
<rect x="335.00" y="396.30" width="2.80" height="1.10" fill="#222" stroke="none" stroke-width="1"/>
<rect x="349.25" y="396.10" width="4.20" height="1.00" fill="#222" stroke="none" stroke-width="1"/>
<rect x="350.85" y="394.50" width="1.00" height="4.20" fill="#222" stroke="none" stroke-width="1"/>
<rect x="364.40" y="396.30" width="2.80" height="1.10" fill="#222" stroke="none" stroke-width="1"/>
<rect x="378.05" y="396.10" width="4.20" height="1.00" fill="#222" stroke="none" stroke-width="1"/>
<rect x="379.65" y="394.50" width="1.00" height="4.20" fill="#222" stroke="none" stroke-width="1"/>
<text x="287.50" y="349.30" font-size="8.3" fill="#333" text-anchor="middle" textLength="43.00" lengthAdjust="spacingAndGlyphs" transform="rotate(-90 287.50 349.30)" >Fold change</text>
<line x1="318.50" y1="307.20" x2="383.50" y2="307.20" stroke="#8a8a8a" stroke-width="0.8" />
<line x1="318.50" y1="306.60" x2="318.50" y2="308.80" stroke="#8a8a8a" stroke-width="0.8" />
<line x1="383.50" y1="306.60" x2="383.50" y2="308.80" stroke="#8a8a8a" stroke-width="0.8" />
<polygon points="348.50,302.15 348.94,302.99 349.88,303.15 349.22,303.83 349.35,304.77 348.50,304.35 347.65,304.77 347.78,303.83 347.12,303.15 348.06,302.99" fill="#111"/>
<polygon points="352.30,302.15 352.74,302.99 353.68,303.15 353.02,303.83 353.15,304.77 352.30,304.35 351.45,304.77 351.58,303.83 350.92,303.15 351.86,302.99" fill="#111"/>
<polygon points="356.20,302.15 356.64,302.99 357.58,303.15 356.92,303.83 357.05,304.77 356.20,304.35 355.35,304.77 355.48,303.83 354.82,303.15 355.76,302.99" fill="#111"/>
<rect x="436.20" y="381.28" width="10.00" height="7.72" fill="#3e55a8" stroke="#151515" stroke-width="0.9"/>
<rect x="450.00" y="334.19" width="10.00" height="54.81" fill="#3e55a8" stroke="#151515" stroke-width="0.9"/>
<line x1="455.00" y1="325.70" x2="455.00" y2="334.19" stroke="#333" stroke-width="0.8" />
<line x1="453.20" y1="325.70" x2="456.80" y2="325.70" stroke="#333" stroke-width="0.8" />
<rect x="464.20" y="381.28" width="10.10" height="7.72" fill="#ffffff" stroke="#151515" stroke-width="0.9"/>
<rect x="478.50" y="386.30" width="9.90" height="2.70" fill="#ffffff" stroke="#151515" stroke-width="0.9"/>
<line x1="483.45" y1="385.91" x2="483.45" y2="386.30" stroke="#333" stroke-width="0.8" />
<line x1="481.65" y1="385.91" x2="485.25" y2="385.91" stroke="#333" stroke-width="0.8" />
<rect x="492.80" y="381.28" width="10.20" height="7.72" fill="#f32428" stroke="#151515" stroke-width="0.9"/>
<rect x="507.30" y="385.53" width="10.20" height="3.47" fill="#f32428" stroke="#151515" stroke-width="0.9"/>
<line x1="512.40" y1="385.29" x2="512.40" y2="385.53" stroke="#333" stroke-width="0.8" />
<line x1="510.60" y1="385.29" x2="514.20" y2="385.29" stroke="#333" stroke-width="0.8" />
<line x1="433.00" y1="311.80" x2="433.00" y2="389.00" stroke="#555" stroke-width="1.4" />
<line x1="433.00" y1="389.00" x2="519.50" y2="389.00" stroke="#222" stroke-width="1.1" />
<text x="430.80" y="391.20" font-size="6.3" fill="#333" text-anchor="end" >0</text>
<text x="430.80" y="375.76" font-size="6.3" fill="#333" text-anchor="end" >2</text>
<text x="430.80" y="360.32" font-size="6.3" fill="#333" text-anchor="end" >4</text>
<text x="430.80" y="344.88" font-size="6.3" fill="#333" text-anchor="end" >6</text>
<text x="430.80" y="329.44" font-size="6.3" fill="#333" text-anchor="end" >8</text>
<text x="430.80" y="314.00" font-size="6.3" fill="#333" text-anchor="end" >10</text>
<text x="473.80" y="293.80" font-size="9.6" fill="#000" font-weight="bold" font-style="italic" textLength="27.00" lengthAdjust="spacingAndGlyphs" >Puma</text>
<rect x="439.80" y="396.30" width="2.80" height="1.10" fill="#222" stroke="none" stroke-width="1"/>
<rect x="452.90" y="396.10" width="4.20" height="1.00" fill="#222" stroke="none" stroke-width="1"/>
<rect x="454.50" y="394.50" width="1.00" height="4.20" fill="#222" stroke="none" stroke-width="1"/>
<rect x="467.85" y="396.30" width="2.80" height="1.10" fill="#222" stroke="none" stroke-width="1"/>
<rect x="481.35" y="396.10" width="4.20" height="1.00" fill="#222" stroke="none" stroke-width="1"/>
<rect x="482.95" y="394.50" width="1.00" height="4.20" fill="#222" stroke="none" stroke-width="1"/>
<rect x="496.50" y="396.30" width="2.80" height="1.10" fill="#222" stroke="none" stroke-width="1"/>
<rect x="510.30" y="396.10" width="4.20" height="1.00" fill="#222" stroke="none" stroke-width="1"/>
<rect x="511.90" y="394.50" width="1.00" height="4.20" fill="#222" stroke="none" stroke-width="1"/>
<text x="419.90" y="350.70" font-size="8.3" fill="#333" text-anchor="middle" textLength="43.00" lengthAdjust="spacingAndGlyphs" transform="rotate(-90 419.90 350.70)" >Fold change</text>
<line x1="454.10" y1="308.80" x2="519.30" y2="308.80" stroke="#8a8a8a" stroke-width="0.8" />
<line x1="454.10" y1="308.20" x2="454.10" y2="310.40" stroke="#8a8a8a" stroke-width="0.8" />
<line x1="519.30" y1="308.20" x2="519.30" y2="310.40" stroke="#8a8a8a" stroke-width="0.8" />
<polygon points="484.00,303.45 484.44,304.29 485.38,304.45 484.72,305.13 484.85,306.07 484.00,305.65 483.15,306.07 483.28,305.13 482.62,304.45 483.56,304.29" fill="#111"/>
<polygon points="487.60,303.45 488.04,304.29 488.98,304.45 488.32,305.13 488.45,306.07 487.60,305.65 486.75,306.07 486.88,305.13 486.22,304.45 487.16,304.29" fill="#111"/>
<polygon points="491.20,303.45 491.64,304.29 492.58,304.45 491.92,305.13 492.05,306.07 491.20,305.65 490.35,306.07 490.48,305.13 489.82,304.45 490.76,304.29" fill="#111"/>
<text x="2.30" y="399.50" font-size="9.5" fill="#222" textLength="44.60" lengthAdjust="spacingAndGlyphs" >Amsacrine</text>
<text x="13.00" y="463.80" font-size="10.5" fill="#000" font-weight="bold" >D</text>
<text x="137.90" y="476.90" font-size="9.6" fill="#222" font-weight="bold" textLength="47.10" lengthAdjust="spacingAndGlyphs" >Apoptosis</text>
<rect x="83.30" y="582.85" width="13.40" height="21.95" fill="#3e55a8" stroke="#111" stroke-width="1.1"/>
<line x1="90.00" y1="581.35" x2="90.00" y2="584.36" stroke="#111" stroke-width="0.9" />
<line x1="86.80" y1="581.35" x2="93.20" y2="581.35" stroke="#111" stroke-width="0.9" />
<line x1="86.80" y1="584.36" x2="93.20" y2="584.36" stroke="#111" stroke-width="0.9" />
<rect x="102.30" y="584.96" width="13.60" height="19.84" fill="#ffffff" stroke="#111" stroke-width="1.1"/>
<line x1="109.10" y1="581.05" x2="109.10" y2="588.87" stroke="#111" stroke-width="0.9" />
<line x1="105.90" y1="581.05" x2="112.30" y2="581.05" stroke="#111" stroke-width="0.9" />
<line x1="105.90" y1="588.87" x2="112.30" y2="588.87" stroke="#111" stroke-width="0.9" />
<rect x="122.80" y="583.15" width="13.80" height="21.64" fill="#68c048" stroke="#111" stroke-width="1.1"/>
<line x1="129.70" y1="581.35" x2="129.70" y2="584.96" stroke="#111" stroke-width="0.9" />
<line x1="126.50" y1="581.35" x2="132.90" y2="581.35" stroke="#111" stroke-width="0.9" />
<line x1="126.50" y1="584.96" x2="132.90" y2="584.96" stroke="#111" stroke-width="0.9" />
<rect x="143.50" y="580.75" width="13.30" height="24.05" fill="#f32428" stroke="#111" stroke-width="1.1"/>
<line x1="150.15" y1="578.65" x2="150.15" y2="582.85" stroke="#111" stroke-width="0.9" />
<line x1="146.95" y1="578.65" x2="153.35" y2="578.65" stroke="#111" stroke-width="0.9" />
<line x1="146.95" y1="582.85" x2="153.35" y2="582.85" stroke="#111" stroke-width="0.9" />
<rect x="173.20" y="519.72" width="13.60" height="85.08" fill="#3e55a8" stroke="#111" stroke-width="1.1"/>
<line x1="180.00" y1="512.21" x2="180.00" y2="527.24" stroke="#111" stroke-width="0.9" />
<line x1="176.80" y1="512.21" x2="183.20" y2="512.21" stroke="#111" stroke-width="0.9" />
<line x1="176.80" y1="527.24" x2="183.20" y2="527.24" stroke="#111" stroke-width="0.9" />
<rect x="193.80" y="583.15" width="14.00" height="21.64" fill="#ffffff" stroke="#111" stroke-width="1.1"/>
<line x1="200.80" y1="581.35" x2="200.80" y2="584.96" stroke="#111" stroke-width="0.9" />
<line x1="197.60" y1="581.35" x2="204.00" y2="581.35" stroke="#111" stroke-width="0.9" />
<line x1="197.60" y1="584.96" x2="204.00" y2="584.96" stroke="#111" stroke-width="0.9" />
<rect x="215.00" y="580.75" width="13.80" height="24.05" fill="#68c048" stroke="#111" stroke-width="1.1"/>
<line x1="221.90" y1="578.95" x2="221.90" y2="582.55" stroke="#111" stroke-width="0.9" />
<line x1="218.70" y1="578.95" x2="225.10" y2="578.95" stroke="#111" stroke-width="0.9" />
<line x1="218.70" y1="582.55" x2="225.10" y2="582.55" stroke="#111" stroke-width="0.9" />
<rect x="236.30" y="586.76" width="13.70" height="18.04" fill="#f32428" stroke="#111" stroke-width="1.1"/>
<line x1="243.15" y1="584.96" x2="243.15" y2="588.57" stroke="#111" stroke-width="0.9" />
<line x1="239.95" y1="584.96" x2="246.35" y2="584.96" stroke="#111" stroke-width="0.9" />
<line x1="239.95" y1="588.57" x2="246.35" y2="588.57" stroke="#111" stroke-width="0.9" />
<line x1="78.20" y1="508.60" x2="78.20" y2="604.80" stroke="#111" stroke-width="1.4" />
<line x1="77.50" y1="604.80" x2="254.00" y2="604.80" stroke="#111" stroke-width="1.4" />
<line x1="74.40" y1="604.80" x2="78.20" y2="604.80" stroke="#111" stroke-width="1.2" />
<text x="73.10" y="607.25" font-size="9" fill="#222" text-anchor="end" >0</text>
<line x1="74.40" y1="580.75" x2="78.20" y2="580.75" stroke="#111" stroke-width="1.2" />
<text x="73.10" y="583.20" font-size="9" fill="#222" text-anchor="end" >8</text>
<line x1="74.40" y1="556.70" x2="78.20" y2="556.70" stroke="#111" stroke-width="1.2" />
<text x="73.10" y="559.15" font-size="9" fill="#222" text-anchor="end" >16</text>
<line x1="74.40" y1="532.65" x2="78.20" y2="532.65" stroke="#111" stroke-width="1.2" />
<text x="73.10" y="535.10" font-size="9" fill="#222" text-anchor="end" >24</text>
<line x1="74.40" y1="508.60" x2="78.20" y2="508.60" stroke="#111" stroke-width="1.2" />
<text x="73.10" y="511.05" font-size="9" fill="#222" text-anchor="end" >32</text>
<line x1="201.30" y1="575.50" x2="243.70" y2="575.50" stroke="#8a8a8a" stroke-width="0.8" />
<line x1="201.30" y1="574.90" x2="201.30" y2="577.10" stroke="#8a8a8a" stroke-width="0.8" />
<line x1="243.70" y1="574.90" x2="243.70" y2="577.10" stroke="#8a8a8a" stroke-width="0.8" />
<polygon points="220.90,568.60 221.63,569.99 223.18,570.26 222.09,571.39 222.31,572.94 220.90,572.25 219.49,572.94 219.71,571.39 218.62,570.26 220.17,569.99" fill="#111"/>
<text x="92.80" y="620.60" font-size="11.7" fill="#222" textLength="50.80" lengthAdjust="spacingAndGlyphs" >Untreated</text>
<text x="189.60" y="620.30" font-size="11.7" fill="#222" textLength="53.70" lengthAdjust="spacingAndGlyphs" >6h post-IR</text>
<text x="37.70" y="557.00" font-size="11.7" fill="#222" text-anchor="middle" textLength="83.00" lengthAdjust="spacingAndGlyphs" transform="rotate(-90 37.70 557.00)" >Annexin-V +ve /</text>
<text x="53.80" y="559.30" font-size="11.7" fill="#222" text-anchor="middle" textLength="78.50" lengthAdjust="spacingAndGlyphs" transform="rotate(-90 53.80 559.30)" >PI -ve cells (%)</text>
<text x="269.50" y="464.50" font-size="10.5" fill="#000" font-weight="bold" >E</text>
<text x="364.30" y="477.30" font-size="9.8" fill="#222" font-weight="bold" textLength="75.20" lengthAdjust="spacingAndGlyphs" >Cell cycle arrest</text>
<rect x="338.30" y="546.77" width="13.70" height="59.03" fill="#3e55a8" stroke="#111" stroke-width="1.1"/>
<line x1="345.15" y1="541.26" x2="345.15" y2="552.28" stroke="#111" stroke-width="0.9" />
<line x1="341.95" y1="541.26" x2="348.35" y2="541.26" stroke="#111" stroke-width="0.9" />
<line x1="341.95" y1="552.28" x2="348.35" y2="552.28" stroke="#111" stroke-width="0.9" />
<rect x="361.30" y="537.69" width="14.20" height="68.11" fill="#ffffff" stroke="#111" stroke-width="1.1"/>
<line x1="368.40" y1="534.77" x2="368.40" y2="540.61" stroke="#111" stroke-width="0.9" />
<line x1="365.20" y1="534.77" x2="371.60" y2="534.77" stroke="#111" stroke-width="0.9" />
<line x1="365.20" y1="540.61" x2="371.60" y2="540.61" stroke="#111" stroke-width="0.9" />
<rect x="385.50" y="522.12" width="15.50" height="83.68" fill="#f32428" stroke="#111" stroke-width="1.1"/>
<line x1="393.25" y1="515.96" x2="393.25" y2="528.28" stroke="#111" stroke-width="0.9" />
<line x1="390.05" y1="515.96" x2="396.45" y2="515.96" stroke="#111" stroke-width="0.9" />
<line x1="390.05" y1="528.28" x2="396.45" y2="528.28" stroke="#111" stroke-width="0.9" />
<rect x="417.30" y="586.99" width="13.40" height="18.81" fill="#3e55a8" stroke="#111" stroke-width="1.1"/>
<line x1="424.00" y1="585.37" x2="424.00" y2="588.61" stroke="#111" stroke-width="0.9" />
<line x1="420.80" y1="585.37" x2="427.20" y2="585.37" stroke="#111" stroke-width="0.9" />
<line x1="420.80" y1="588.61" x2="427.20" y2="588.61" stroke="#111" stroke-width="0.9" />
<rect x="439.20" y="542.23" width="14.30" height="63.57" fill="#ffffff" stroke="#111" stroke-width="1.1"/>
<line x1="446.35" y1="536.39" x2="446.35" y2="548.07" stroke="#111" stroke-width="0.9" />
<line x1="443.15" y1="536.39" x2="449.55" y2="536.39" stroke="#111" stroke-width="0.9" />
<line x1="443.15" y1="548.07" x2="449.55" y2="548.07" stroke="#111" stroke-width="0.9" />
<rect x="461.80" y="522.12" width="16.20" height="83.68" fill="#f32428" stroke="#111" stroke-width="1.1"/>
<line x1="469.90" y1="517.58" x2="469.90" y2="526.66" stroke="#111" stroke-width="0.9" />
<line x1="466.70" y1="517.58" x2="473.10" y2="517.58" stroke="#111" stroke-width="0.9" />
<line x1="466.70" y1="526.66" x2="473.10" y2="526.66" stroke="#111" stroke-width="0.9" />
<line x1="334.90" y1="508.50" x2="334.90" y2="605.80" stroke="#111" stroke-width="1.4" />
<line x1="334.20" y1="605.80" x2="481.20" y2="605.80" stroke="#111" stroke-width="1.4" />
<line x1="331.10" y1="605.80" x2="334.90" y2="605.80" stroke="#111" stroke-width="1.2" />
<text x="329.80" y="608.25" font-size="9" fill="#222" text-anchor="end" >0</text>
<line x1="331.10" y1="573.37" x2="334.90" y2="573.37" stroke="#111" stroke-width="1.2" />
<text x="329.80" y="575.82" font-size="9" fill="#222" text-anchor="end" >10</text>
<line x1="331.10" y1="540.93" x2="334.90" y2="540.93" stroke="#111" stroke-width="1.2" />
<text x="329.80" y="543.38" font-size="9" fill="#222" text-anchor="end" >20</text>
<line x1="331.10" y1="508.50" x2="334.90" y2="508.50" stroke="#111" stroke-width="1.2" />
<text x="329.80" y="510.95" font-size="9" fill="#222" text-anchor="end" >30</text>
<line x1="346.30" y1="499.50" x2="390.80" y2="499.50" stroke="#8a8a8a" stroke-width="0.8" />
<line x1="346.30" y1="498.90" x2="346.30" y2="501.10" stroke="#8a8a8a" stroke-width="0.8" />
<line x1="390.80" y1="498.90" x2="390.80" y2="501.10" stroke="#8a8a8a" stroke-width="0.8" />
<polygon points="363.60,493.50 364.24,494.72 365.60,494.95 364.64,495.94 364.83,497.30 363.60,496.69 362.37,497.30 362.56,495.94 361.60,494.95 362.96,494.72" fill="#111"/>
<polygon points="368.70,493.50 369.34,494.72 370.70,494.95 369.74,495.94 369.93,497.30 368.70,496.69 367.47,497.30 367.66,495.94 366.70,494.95 368.06,494.72" fill="#111"/>
<polygon points="373.80,493.50 374.44,494.72 375.80,494.95 374.84,495.94 375.03,497.30 373.80,496.69 372.57,497.30 372.76,495.94 371.80,494.95 373.16,494.72" fill="#111"/>
<line x1="368.30" y1="507.40" x2="390.80" y2="507.40" stroke="#8a8a8a" stroke-width="0.8" />
<line x1="368.30" y1="506.80" x2="368.30" y2="509.00" stroke="#8a8a8a" stroke-width="0.8" />
<line x1="390.80" y1="506.80" x2="390.80" y2="509.00" stroke="#8a8a8a" stroke-width="0.8" />
<polygon points="375.50,501.10 376.14,502.32 377.50,502.55 376.54,503.54 376.73,504.90 375.50,504.29 374.27,504.90 374.46,503.54 373.50,502.55 374.86,502.32" fill="#111"/>
<polygon points="380.20,501.10 380.84,502.32 382.20,502.55 381.24,503.54 381.43,504.90 380.20,504.29 378.97,504.90 379.16,503.54 378.20,502.55 379.56,502.32" fill="#111"/>
<polygon points="384.90,501.10 385.54,502.32 386.90,502.55 385.94,503.54 386.13,504.90 384.90,504.29 383.67,504.90 383.86,503.54 382.90,502.55 384.26,502.32" fill="#111"/>
<line x1="446.70" y1="509.80" x2="469.60" y2="509.80" stroke="#8a8a8a" stroke-width="0.8" />
<line x1="446.70" y1="509.20" x2="446.70" y2="511.40" stroke="#8a8a8a" stroke-width="0.8" />
<line x1="469.60" y1="509.20" x2="469.60" y2="511.40" stroke="#8a8a8a" stroke-width="0.8" />
<polygon points="456.20,504.00 456.84,505.22 458.20,505.45 457.24,506.44 457.43,507.80 456.20,507.19 454.97,507.80 455.16,506.44 454.20,505.45 455.56,505.22" fill="#111"/>
<polygon points="461.20,504.00 461.84,505.22 463.20,505.45 462.24,506.44 462.43,507.80 461.20,507.19 459.97,507.80 460.16,506.44 459.20,505.45 460.56,505.22" fill="#111"/>
<text x="345.50" y="621.70" font-size="11.7" fill="#222" textLength="51.00" lengthAdjust="spacingAndGlyphs" >Untreated</text>
<text x="417.40" y="621.80" font-size="11.7" fill="#222" textLength="60.60" lengthAdjust="spacingAndGlyphs" >24h post-IR</text>
<text x="312.00" y="555.60" font-size="11.7" fill="#222" text-anchor="middle" textLength="66.30" lengthAdjust="spacingAndGlyphs" transform="rotate(-90 312.00 555.60)" >S phase (%)</text>
<rect x="123.30" y="666.80" width="8.50" height="8.00" fill="#3e55a8" stroke="#222" stroke-width="1"/>
<rect x="214.00" y="667.30" width="8.50" height="8.00" fill="#ffffff" stroke="#222" stroke-width="1"/>
<rect x="286.20" y="666.80" width="8.50" height="8.00" fill="#68c048" stroke="#222" stroke-width="1"/>
<rect x="381.40" y="666.80" width="8.50" height="8.00" fill="#f32428" stroke="#222" stroke-width="1"/>
<text x="138.60" y="673.90" font-size="10.2" fill="#222" textLength="18.10" lengthAdjust="spacingAndGlyphs" >p53</text>
<text x="157.20" y="670.40" font-size="7.2" fill="#222" textLength="11.60" lengthAdjust="spacingAndGlyphs" >+/+</text>
<text x="228.60" y="674.20" font-size="10.2" fill="#222" textLength="17.30" lengthAdjust="spacingAndGlyphs" >p53</text>
<text x="246.40" y="669.60" font-size="7.2" fill="#222" textLength="8.60" lengthAdjust="spacingAndGlyphs" >-/-</text>
<text x="299.90" y="673.90" font-size="10.2" fill="#222" textLength="17.30" lengthAdjust="spacingAndGlyphs" >p53</text>
<text x="317.70" y="667.60" font-size="5.0" fill="#444" textLength="14.20" lengthAdjust="spacingAndGlyphs" >m/spro</text>
<text x="397.30" y="674.00" font-size="10.2" fill="#222" textLength="43.70" lengthAdjust="spacingAndGlyphs" >&#916;122p53</text>
</svg>
</body></html>
